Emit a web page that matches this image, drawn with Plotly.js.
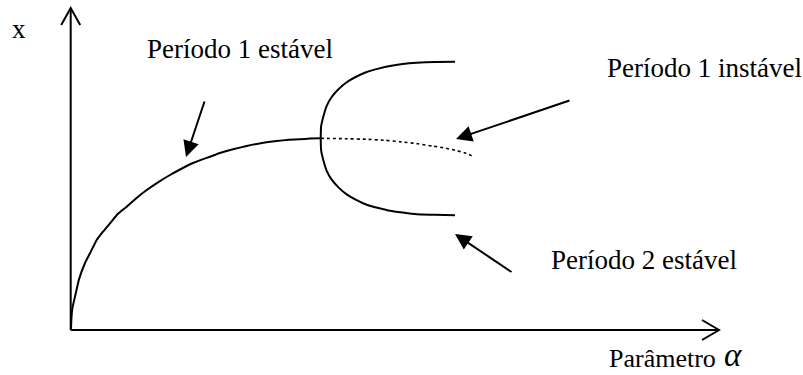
<!DOCTYPE html>
<html>
<head>
<meta charset="utf-8">
<script src="https://cdn.plot.ly/plotly-3.0.1.min.js"></script>
<style>html,body{margin:0;padding:0;background:#fff;}#chart{width:803px;height:375px;}</style>
</head>
<body>
<div id="chart"></div>
<script>
// Period-1 stable branch (before bifurcation)
const stableX = [71, 71.5, 72.5, 75, 79, 85, 90, 96.7, 103, 110, 118, 126.7, 136, 146.7, 158, 170, 181, 193, 206, 220, 233, 246.7, 262, 276.7, 289, 300, 310, 320.7];
const stableY = [329, 317, 307.5, 296.7, 279.4, 263, 253.3, 240, 231.7, 223.3, 213.8, 206.7, 198.4, 190, 182.3, 175, 169, 163, 158.1, 153, 149.3, 146, 143, 141, 139.8, 139.2, 138.6, 138.3];
// Period-2 stable branches
const upperX = [320.7, 321.1, 323.3, 326.7, 331.7, 338.2, 346.7, 355.6, 366.7, 378.4, 390, 402.6, 416.7, 434.9, 455];
const upperY = [138.3, 126.5, 116.7, 105.8, 97, 89.5, 82.3, 77, 72, 68.6, 65.9, 64, 62.7, 61.9, 61.7];
const lowerX = [320.7, 321.1, 323.3, 326.7, 331.7, 338.2, 346.7, 355.6, 366.7, 378.4, 390, 402.6, 416.7, 434.9, 455];
const lowerY = [138.3, 150.1, 160, 170.8, 179.7, 187.1, 194.4, 199.6, 204.7, 208, 210.8, 212.6, 214.3, 214.8, 215.3];
// Period-1 unstable continuation
const unstableX = [320.7, 345, 366.7, 385, 400, 418, 433.3, 446, 456.7, 466, 474];
const unstableY = [138.3, 138.7, 139.3, 140.3, 141.7, 143.8, 146.2, 148.3, 150.6, 153.3, 156.7];
// Axes (origin, ends)
const axisOrigin = [70.7, 330];
const xAxisEnd = 719;
const yAxisEnd = 8;
// Labels
const labels = ["Período 1 estável", "Período 1 instável", "Período 2 estável"];
const labelPos = [[146, 49], [606, 68], [550, 259.5]];
// Pointer arrows: [tail x, tail y, tip x, tip y]
const pointers = [[205, 100, 186, 157], [571, 100, 456, 139], [513, 273, 455, 234]];

const black = '#000';
const line = {color: black, width: 2, shape: 'spline', smoothing: 0.4};
const traces = [
  {x: stableX, y: stableY, mode: 'lines', line: line, hoverinfo: 'skip'},
  {x: upperX, y: upperY, mode: 'lines', line: line, hoverinfo: 'skip'},
  {x: lowerX, y: lowerY, mode: 'lines', line: line, hoverinfo: 'skip'},
  {x: unstableX, y: unstableY, mode: 'lines', line: {color: black, width: 1.6, dash: 'dot', shape: 'spline', smoothing: 0.4}, hoverinfo: 'skip'}
];

const ox = axisOrigin[0], oy = axisOrigin[1];
const shapes = [
  {type: 'line', xref: 'x', yref: 'y', x0: ox, y0: oy, x1: xAxisEnd, y1: oy, line: {color: black, width: 2}},
  {type: 'line', xref: 'x', yref: 'y', x0: ox, y0: oy, x1: ox, y1: yAxisEnd, line: {color: black, width: 2}},
  {type: 'path', xref: 'x', yref: 'y', path: `M ${xAxisEnd-17},${oy-10} L ${xAxisEnd},${oy} L ${xAxisEnd-17},${oy+10}`, line: {color: black, width: 2}},
  {type: 'path', xref: 'x', yref: 'y', path: `M ${ox-9.5},${yAxisEnd+17} L ${ox},${yAxisEnd} L ${ox+9.5},${yAxisEnd+17}`, line: {color: black, width: 2}}
];

const fam = 'Liberation Serif, Times New Roman, serif';
const font = {family: fam, size: 27, color: black};
const annotations = [];
labels.forEach((t, i) => annotations.push({
  x: labelPos[i][0], y: labelPos[i][1], xref: 'x', yref: 'y', text: t, showarrow: false,
  xanchor: 'left', yanchor: 'middle', font: font, borderpad: 0
}));
annotations.push({x: 11, y: 29, xref: 'x', yref: 'y', text: 'x', showarrow: false, xanchor: 'left', yanchor: 'middle', font: font, borderpad: 0});
annotations.push({x: 608, y: 358.5, xref: 'x', yref: 'y', text: 'Parâmetro', showarrow: false, xanchor: 'left', yanchor: 'middle', font: {family: fam, size: 26, color: black}, borderpad: 0});
annotations.push({x: 723, y: 355, xref: 'x', yref: 'y', text: '<i>α</i>', showarrow: false, xanchor: 'left', yanchor: 'middle', font: {family: fam, size: 33, color: black}, borderpad: 0});
pointers.forEach(p => annotations.push({
  x: p[2], y: p[3], ax: p[0], ay: p[1], xref: 'x', yref: 'y', axref: 'x', ayref: 'y',
  text: '', showarrow: true, arrowhead: 2, arrowsize: 1.6, arrowwidth: 2, arrowcolor: black, standoff: 0
}));

const layout = {
  width: 803, height: 375,
  margin: {l: 0, r: 0, t: 0, b: 0},
  paper_bgcolor: '#fff', plot_bgcolor: '#fff',
  showlegend: false,
  xaxis: {range: [0, 803], visible: false, fixedrange: true},
  yaxis: {range: [375, 0], visible: false, fixedrange: true},
  shapes: shapes,
  annotations: annotations
};
Plotly.newPlot('chart', traces, layout, {staticPlot: true, displayModeBar: false});
</script>
</body>
</html>
